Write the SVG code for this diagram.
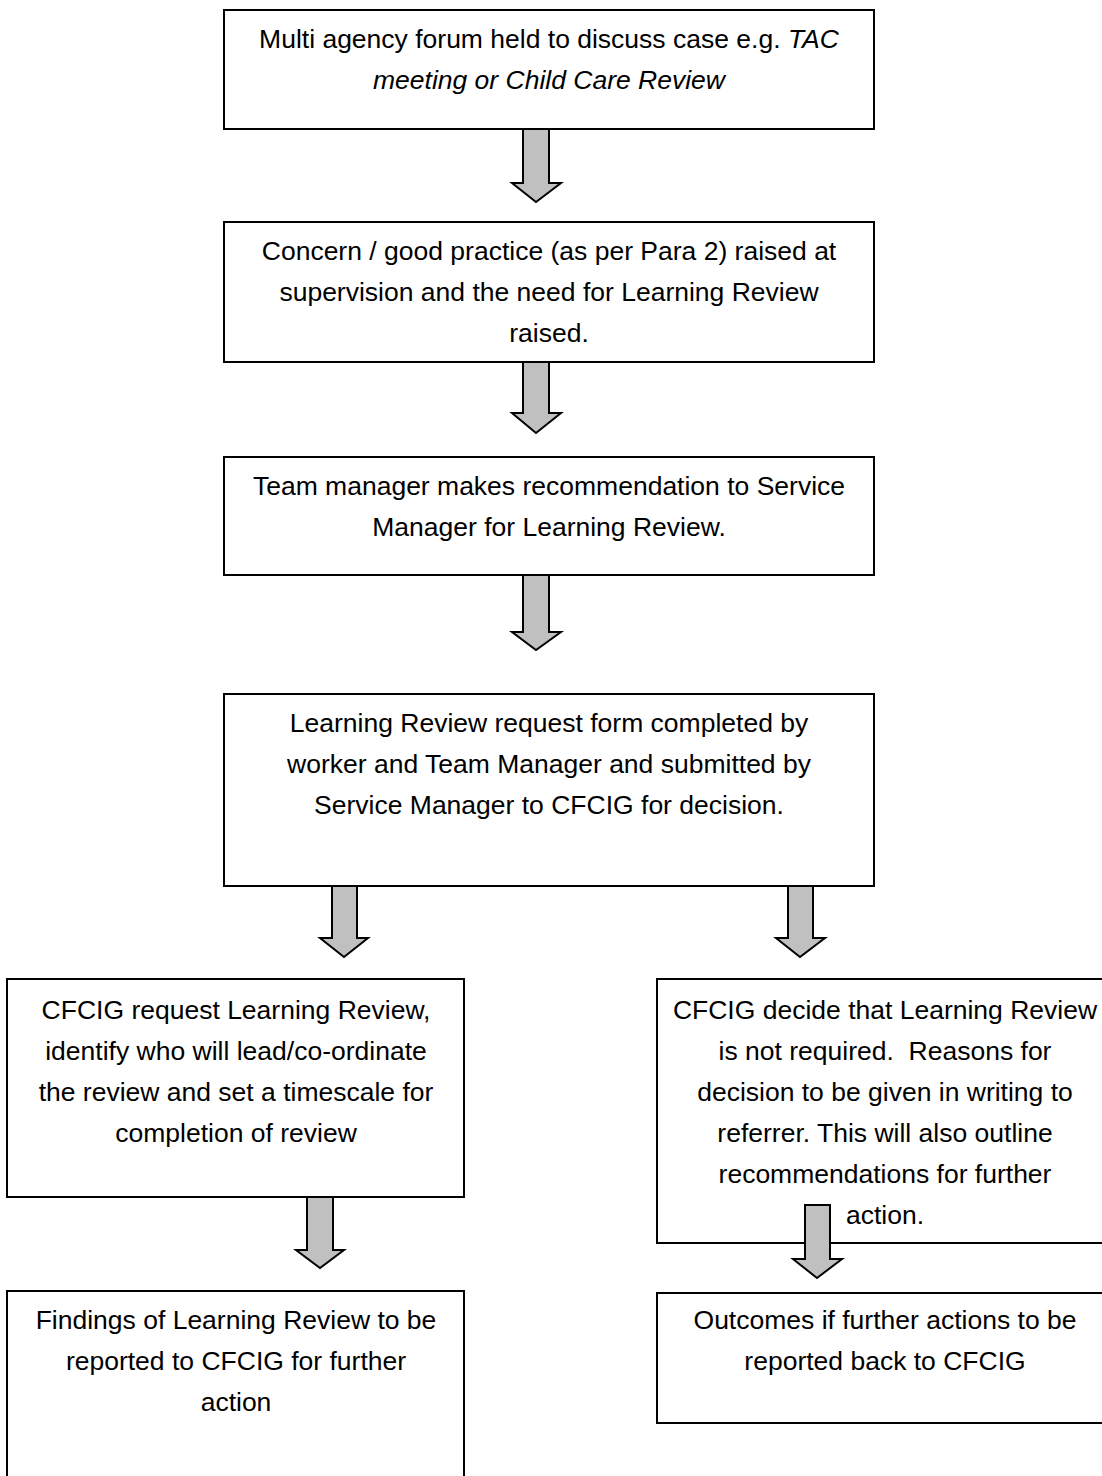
<svg xmlns="http://www.w3.org/2000/svg" width="1102" height="1476" viewBox="0 0 1102 1476">
<style>
.box{fill:#ffffff;stroke:#000000;stroke-width:2}
.arr{fill:#c0c0c0;stroke:#000000;stroke-width:2;stroke-linejoin:miter}
text{font-family:"Liberation Sans",Arial,sans-serif;font-size:26.5px;fill:#000000;text-anchor:middle}
.it{font-style:italic}
</style>
<rect width="1102" height="1476" fill="#ffffff"/>
<g id="n1">
<rect class="box" x="224" y="10" width="650" height="119"/>
<text x="549" y="48">Multi agency forum held to discuss case e.g. <tspan class="it">TAC</tspan></text>
<text x="549" y="89" class="it">meeting or Child Care Review</text>
</g>
<g id="n2">
<rect class="box" x="224" y="222" width="650" height="140"/>
<text x="549" y="260">Concern / good practice (as per Para 2) raised at</text>
<text x="549" y="301">supervision and the need for Learning Review</text>
<text x="549" y="342">raised.</text>
</g>
<g id="n3">
<rect class="box" x="224" y="457" width="650" height="118"/>
<text x="549" y="495">Team manager makes recommendation to Service</text>
<text x="549" y="536">Manager for Learning Review.</text>
</g>
<g id="n4">
<rect class="box" x="224" y="694" width="650" height="192"/>
<text x="549" y="732">Learning Review request form completed by</text>
<text x="549" y="773">worker and Team Manager and submitted by</text>
<text x="549" y="814">Service Manager to CFCIG for decision.</text>
</g>
<g id="n5">
<rect class="box" x="7" y="979" width="457" height="218"/>
<text x="236" y="1019">CFCIG request Learning Review,</text>
<text x="236" y="1060">identify who will lead/co-ordinate</text>
<text x="236" y="1101">the review and set a timescale for</text>
<text x="236" y="1142">completion of review</text>
</g>
<g id="n6">
<rect class="box" x="657" y="979" width="460" height="264"/>
<text x="885" y="1019">CFCIG decide that Learning Review</text>
<text x="885" y="1060">is not required.&#160; Reasons for</text>
<text x="885" y="1101">decision to be given in writing to</text>
<text x="885" y="1142">referrer. This will also outline</text>
<text x="885" y="1183">recommendations for further</text>
<text x="885" y="1224">action.</text>
</g>
<g id="n7">
<rect class="box" x="7" y="1291" width="457" height="200"/>
<text x="236" y="1329">Findings of Learning Review to be</text>
<text x="236" y="1370">reported to CFCIG for further</text>
<text x="236" y="1411">action</text>
</g>
<g id="n8">
<rect class="box" x="657" y="1293" width="460" height="130"/>
<text x="885" y="1329">Outcomes if further actions to be</text>
<text x="885" y="1370">reported back to CFCIG</text>
</g>
<g id="connectors">
<path class="arr" d="M523,129 H549 V183 H561 L536,202 L512,183 H523 Z"/>
<path class="arr" d="M523,362 H549 V413 H561 L536,433 L512,413 H523 Z"/>
<path class="arr" d="M523,575 H549 V632 H561 L536,650 L512,632 H523 Z"/>
<path class="arr" d="M332,886 H357 V938 H368 L344,957 L320,938 H332 Z"/>
<path class="arr" d="M788,886 H813 V938 H825 L800,957 L776,938 H788 Z"/>
<path class="arr" d="M307,1197 H333 V1250 H344 L320,1268 L296,1250 H307 Z"/>
<path class="arr" d="M805,1205 H830 V1259 H842 L817,1278 L793,1259 H805 Z"/>
</g>
</svg>
